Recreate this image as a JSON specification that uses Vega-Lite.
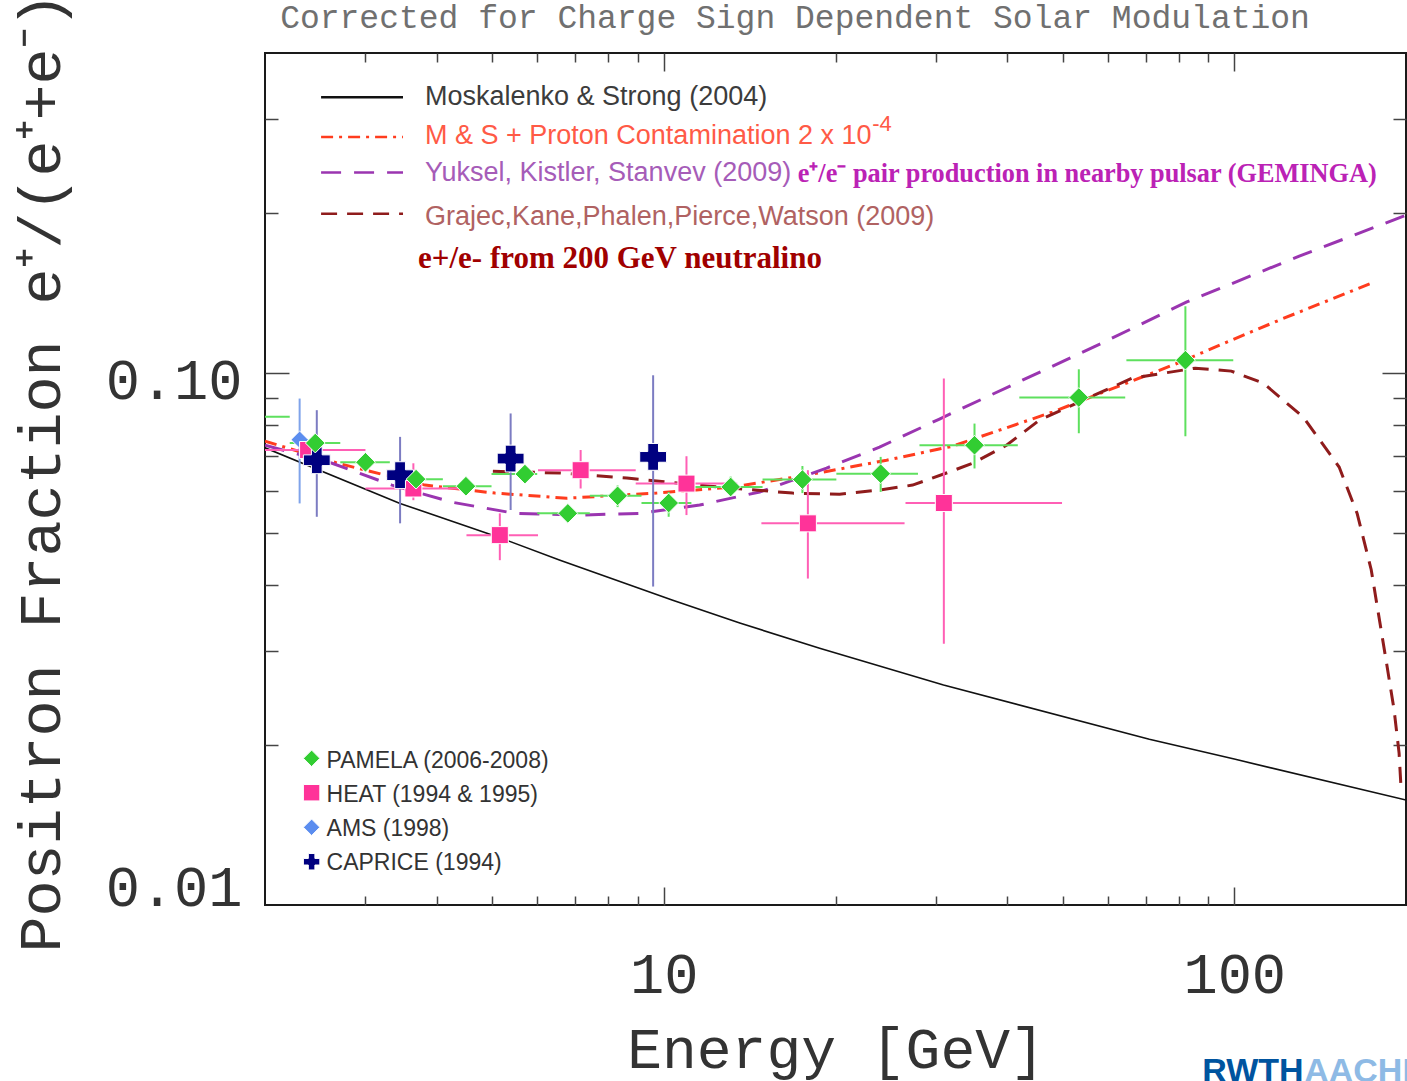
{
"$schema":"https://vega.github.io/schema/vega-lite/v6.json",
"width":1141,"height":852,
"autosize":{"type":"none"},
"padding":{"left":265,"top":53,"right":1,"bottom":176},
"background":"white",
"config":{"view":{"stroke":"#1a1a1a","strokeWidth":2},"axis":{"grid":false,"domain":false}},
"datasets":{
"curves":[
{"s":"MS","E":2.0,"F":0.0724},{"s":"MS","E":3.45,"F":0.0569},{"s":"MS","E":5.12,"F":0.0492},{"s":"MS","E":6.58,"F":0.0445},{"s":"MS","E":10.37,"F":0.0374},{"s":"MS","E":13.59,"F":0.0339},{"s":"MS","E":18.76,"F":0.0304},{"s":"MS","E":30.93,"F":0.02592},{"s":"MS","E":70.98,"F":0.0205},{"s":"MS","E":100,"F":0.01881},{"s":"MS","E":200,"F":0.01575},
{"s":"MSP","E":2.0,"F":0.0745},{"s":"MSP","E":2.686,"F":0.0677},{"s":"MSP","E":3.815,"F":0.0616},{"s":"MSP","E":5.06,"F":0.0595},{"s":"MSP","E":6.76,"F":0.0582},{"s":"MSP","E":9.72,"F":0.0595},{"s":"MSP","E":13.21,"F":0.0611},{"s":"MSP","E":17.8,"F":0.0643},{"s":"MSP","E":24.58,"F":0.0686},{"s":"MSP","E":32.07,"F":0.0729},{"s":"MSP","E":48.0,"F":0.0845},{"s":"MSP","E":79.5,"F":0.1044},{"s":"MSP","E":98.8,"F":0.1153},{"s":"MSP","E":120.9,"F":0.1263},{"s":"MSP","E":173.8,"F":0.1476},
{"s":"Y","E":2.0,"F":0.0732},{"s":"Y","E":2.622,"F":0.0677},{"s":"Y","E":3.338,"F":0.0616},{"s":"Y","E":4.253,"F":0.0572},{"s":"Y","E":5.483,"F":0.0545},{"s":"Y","E":7.13,"F":0.0541},{"s":"Y","E":9.08,"F":0.0545},{"s":"Y","E":11.56,"F":0.0565},{"s":"Y","E":14.73,"F":0.0598},{"s":"Y","E":19.29,"F":0.0663},{"s":"Y","E":23.89,"F":0.0726},{"s":"Y","E":30.43,"F":0.082},{"s":"Y","E":42.53,"F":0.097},{"s":"Y","E":58.0,"F":0.1133},{"s":"Y","E":82.4,"F":0.136},{"s":"Y","E":130.0,"F":0.166},{"s":"Y","E":200,"F":0.1982},
{"s":"G","E":5.017,"F":0.0654},{"s":"G","E":6.58,"F":0.0649},{"s":"G","E":8.614,"F":0.0635},{"s":"G","E":12.04,"F":0.0613},{"s":"G","E":16.82,"F":0.0595},{"s":"G","E":20.33,"F":0.0592},{"s":"G","E":23.89,"F":0.0603},{"s":"G","E":27.3,"F":0.0616},{"s":"G","E":31.3,"F":0.0649},{"s":"G","E":34.77,"F":0.0677},{"s":"G","E":39.88,"F":0.0732},{"s":"G","E":45.55,"F":0.0816},{"s":"G","E":52.03,"F":0.0871},{"s":"G","E":66.27,"F":0.0979},{"s":"G","E":85.44,"F":0.1022},{"s":"G","E":98.8,"F":0.1009},{"s":"G","E":112.4,"F":0.0958},{"s":"G","E":132.1,"F":0.0827},{"s":"G","E":152.7,"F":0.0666},{"s":"G","E":164.2,"F":0.0545},{"s":"G","E":173.8,"F":0.0427},{"s":"G","E":184.5,"F":0.0289},{"s":"G","E":190.6,"F":0.0233},{"s":"G","E":194.5,"F":0.0193},{"s":"G","E":196.1,"F":0.0165}
],
"pts":[
{"exp":"PAMELA","E":1.85,"F":0.0828,"xlo":1.6,"xhi":2.21},
{"exp":"PAMELA","E":2.45,"F":0.0739,"xlo":2.21,"xhi":2.71},
{"exp":"PAMELA","E":3.0,"F":0.068,"xlo":2.71,"xhi":3.31},
{"exp":"PAMELA","E":3.68,"F":0.0632,"xlo":3.31,"xhi":4.1},
{"exp":"PAMELA","E":4.5,"F":0.0613,"xlo":4.1,"xhi":4.99},
{"exp":"PAMELA","E":5.71,"F":0.0646,"xlo":4.99,"xhi":6.0},
{"exp":"PAMELA","E":6.79,"F":0.0545,"xlo":6.0,"xhi":7.42},
{"exp":"PAMELA","E":8.3,"F":0.0588,"xlo":7.42,"xhi":9.14,"ylo":0.056,"yhi":0.0615},
{"exp":"PAMELA","E":10.2,"F":0.057,"xlo":9.14,"xhi":11.18,"ylo":0.0537,"yhi":0.0598},
{"exp":"PAMELA","E":13.1,"F":0.0611,"xlo":11.18,"xhi":14.9,"ylo":0.0586,"yhi":0.0639},
{"exp":"PAMELA","E":17.5,"F":0.0631,"xlo":14.9,"xhi":20.07,"ylo":0.0595,"yhi":0.0669},
{"exp":"PAMELA","E":24.0,"F":0.0647,"xlo":20.07,"xhi":27.9,"ylo":0.0598,"yhi":0.0696},
{"exp":"PAMELA","E":35.05,"F":0.0732,"xlo":28.07,"xhi":41.74,"ylo":0.0662,"yhi":0.0804},
{"exp":"PAMELA","E":53.4,"F":0.09,"xlo":42.0,"xhi":64.4,"ylo":0.0771,"yhi":0.1017},
{"exp":"PAMELA","E":82.1,"F":0.1058,"xlo":64.7,"xhi":99.6,"ylo":0.0761,"yhi":0.1336},
{"exp":"HEAT","E":2.38,"F":0.0717,"xlo":1.9,"xhi":3.0},
{"exp":"HEAT","E":3.64,"F":0.0607,"xlo":3.0,"xhi":4.5,"ylo":0.0577,"yhi":0.0677},
{"exp":"HEAT","E":5.16,"F":0.0496,"xlo":4.51,"xhi":6.02,"ylo":0.0445,"yhi":0.0545},
{"exp":"HEAT","E":7.15,"F":0.0657,"xlo":6.02,"xhi":8.93,"ylo":0.0607,"yhi":0.0717},
{"exp":"HEAT","E":10.96,"F":0.062,"xlo":8.93,"xhi":13.45,"ylo":0.0541,"yhi":0.0698},
{"exp":"HEAT","E":17.89,"F":0.0522,"xlo":14.83,"xhi":26.43,"ylo":0.0411,"yhi":0.0657},
{"exp":"HEAT","E":30.97,"F":0.057,"xlo":26.53,"xhi":49.9,"ylo":0.031,"yhi":0.0977},
{"exp":"AMS","E":2.3,"F":0.075,"ylo":0.0569,"yhi":0.0896},
{"exp":"CAPRICE","E":2.465,"F":0.0686,"ylo":0.0537,"yhi":0.0852},
{"exp":"CAPRICE","E":3.45,"F":0.0643,"ylo":0.0522,"yhi":0.0759},
{"exp":"CAPRICE","E":5.39,"F":0.0691,"ylo":0.0553,"yhi":0.084},
{"exp":"CAPRICE","E":9.58,"F":0.0696,"ylo":0.0397,"yhi":0.0991}
],
"legl":[
{"s":"MS","x1":2.508,"x2":3.491,"F":0.3303},
{"s":"MSP","x1":2.508,"x2":3.491,"F":0.2781},
{"s":"Y","x1":2.508,"x2":3.491,"F":0.2384},
{"s":"G","x1":2.508,"x2":3.491,"F":0.1995}
],
"legt":[
{"s":"MS","t":"Moskalenko & Strong (2004)","E":3.815,"F":0.3191},
{"s":"MSP","t":"M & S + Proton Contamination 2 x 10","E":3.815,"F":0.2695},
{"s":"Y","t":"Yuksel, Kistler, Stanvev (2009)","E":3.815,"F":0.2296},
{"s":"G","t":"Grajec,Kane,Phalen,Pierce,Watson (2009)","E":3.815,"F":0.1898}
],
"legm":[
{"exp":"PAMELA","lab":"PAMELA (2006-2008)","E":2.414,"F":0.01887,"tE":2.564,"tF":0.0181},
{"exp":"HEAT","lab":"HEAT (1994 & 1995)","E":2.414,"F":0.01626,"tE":2.564,"tF":0.01564},
{"exp":"AMS","lab":"AMS (1998)","E":2.414,"F":0.014,"tE":2.564,"tF":0.01348},
{"exp":"CAPRICE","lab":"CAPRICE (1994)","E":2.414,"F":0.01206,"tE":2.564,"tF":0.01163}
]
},
"resolve":{"scale":{"stroke":"independent","fill":"independent","shape":"independent","strokeDash":"independent","color":"independent"},"axis":{"x":"independent","y":"independent"}},
"layer":[
{"data":{"name":"curves"},"transform":[{"filter":"datum.s==='MS'"}],
 "mark":{"type":"line","clip":true,"color":"#111111","strokeWidth":1.6},
 "encoding":{
  "x":{"field":"E","type":"quantitative","scale":{"type":"log","domain":[2,200],"nice":false},
   "axis":{"orient":"bottom","values":[10,100],"format":"d","ticks":false,"domain":false,"grid":false,"labelFont":"Liberation Mono","labelFontSize":57,"labelColor":"#333333","labelPadding":42,"labelFlush":false,"labelOverlap":false,"labelBound":false,"title":"Energy [GeV]","titleFont":"Liberation Mono","titleFontSize":58,"titleFontWeight":"normal","titleColor":"#333333","titleY":162,"titleBaseline":"alphabetic"}},
  "y":{"field":"F","type":"quantitative","scale":{"type":"log","domain":[0.01,0.4],"nice":false},
   "axis":{"orient":"left","values":[0.01,0.1],"format":".2f","ticks":false,"domain":false,"grid":false,"labelFont":"Liberation Mono","labelFontSize":57,"labelColor":"#333333","labelPadding":23,"labelFlush":false,"labelOverlap":false,"labelBaseline":"alphabetic","labelOffset":{"condition":{"test":"datum.value > 0.05","value":25},"value":0},"title":"Positron Fraction e⁺/(e⁺+e⁻)","titleFont":"Liberation Mono","titleFontSize":60,"titleFontWeight":"normal","titleColor":"#333333","titleX":-206,"titleY":419,"titleBaseline":"alphabetic","titleAngle":270}}
 }},
{"data":{"name":"curves"},"transform":[{"filter":"datum.s==='MSP'"}],
 "mark":{"type":"line","clip":true,"color":"#ff3c1e","strokeWidth":3,"strokeDash":[12,6,3,6]},
 "encoding":{
  "x":{"field":"E","type":"quantitative","scale":{"type":"log","domain":[2,200],"nice":false},
   "axis":{"orient":"bottom","values":[10,100],"labels":false,"ticks":true,"tickSize":-18,"tickColor":"#444444","tickWidth":1.5,"domain":false,"grid":false,"title":null}},
  "y":{"field":"F","type":"quantitative","scale":{"type":"log","domain":[0.01,0.4],"nice":false},
   "axis":{"orient":"left","values":[0.1],"labels":false,"ticks":true,"tickSize":-24,"tickColor":"#444444","tickWidth":1.5,"domain":false,"grid":false,"title":null}}
 }},
{"data":{"name":"curves"},"transform":[{"filter":"datum.s==='Y'"}],
 "mark":{"type":"line","clip":true,"color":"#9a35b0","strokeWidth":3,"strokeDash":[20,13]},
 "encoding":{
  "x":{"field":"E","type":"quantitative","scale":{"type":"log","domain":[2,200],"nice":false},
   "axis":{"orient":"bottom","values":[3,4,5,6,7,8,9,20,30,40,50,60,70,80,90],"labels":false,"ticks":true,"tickSize":-9,"tickColor":"#444444","tickWidth":1.5,"domain":false,"grid":false,"title":null}},
  "y":{"field":"F","type":"quantitative","scale":{"type":"log","domain":[0.01,0.4],"nice":false},
   "axis":{"orient":"left","values":[0.02,0.03,0.04,0.05,0.06,0.07,0.08,0.09,0.2,0.3],"labels":false,"ticks":true,"tickSize":-13,"tickColor":"#444444","tickWidth":1.5,"domain":false,"grid":false,"title":null}}
 }},
{"data":{"name":"curves"},"transform":[{"filter":"datum.s==='G'"}],
 "mark":{"type":"line","clip":true,"color":"#8f1c1c","strokeWidth":3,"strokeDash":[16,10]},
 "encoding":{
  "x":{"field":"E","type":"quantitative","scale":{"type":"log","domain":[2,200],"nice":false},
   "axis":{"orient":"top","values":[10,100],"labels":false,"ticks":true,"tickSize":-18,"tickColor":"#444444","tickWidth":1.5,"domain":false,"grid":false,"title":null}},
  "y":{"field":"F","type":"quantitative","scale":{"type":"log","domain":[0.01,0.4],"nice":false},
   "axis":{"orient":"right","values":[0.1],"labels":false,"ticks":true,"tickSize":-24,"tickColor":"#444444","tickWidth":1.5,"domain":false,"grid":false,"title":null}}
 }},
{"data":{"name":"legl"},
 "mark":{"type":"rule","strokeWidth":2.5},
 "encoding":{
  "x":{"field":"x1","type":"quantitative","scale":{"type":"log","domain":[2,200],"nice":false},
   "axis":{"orient":"top","values":[3,4,5,6,7,8,9,20,30,40,50,60,70,80,90],"labels":false,"ticks":true,"tickSize":-9,"tickColor":"#444444","tickWidth":1.5,"domain":false,"grid":false,"title":null}},
  "x2":{"field":"x2"},
  "y":{"field":"F","type":"quantitative","scale":{"type":"log","domain":[0.01,0.4],"nice":false},
   "axis":{"orient":"right","values":[0.02,0.03,0.04,0.05,0.06,0.07,0.08,0.09,0.2,0.3],"labels":false,"ticks":true,"tickSize":-13,"tickColor":"#444444","tickWidth":1.5,"domain":false,"grid":false,"title":null}},
  "stroke":{"field":"s","type":"nominal","scale":{"domain":["MS","MSP","Y","G"],"range":["#111111","#ff3c1e","#9a35b0","#8f1c1c"]},"legend":null},
  "strokeDash":{"field":"s","type":"nominal","scale":{"domain":["MS","MSP","Y","G"],"range":[[1,0],[12,6,3,6],[20,13],[16,10]]},"legend":null}
 }},
{"data":{"name":"pts"},"transform":[{"filter":"isValid(datum.xlo)"}],
 "mark":{"type":"rule","clip":true,"strokeWidth":2},
 "encoding":{
  "x":{"field":"xlo","type":"quantitative","scale":{"type":"log","domain":[2,200],"nice":false},"axis":null},
  "x2":{"field":"xhi"},
  "y":{"field":"F","type":"quantitative","scale":{"type":"log","domain":[0.01,0.4],"nice":false},"axis":null},
  "stroke":{"field":"exp","type":"nominal","scale":{"domain":["PAMELA","HEAT","AMS","CAPRICE"],"range":["#5ee05e","#ff5fb5","#7fa3ea","#7c7cc2"]},"legend":null}
 }},
{"data":{"name":"pts"},"transform":[{"filter":"isValid(datum.ylo)"}],
 "mark":{"type":"rule","clip":true,"strokeWidth":2},
 "encoding":{
  "x":{"field":"E","type":"quantitative","scale":{"type":"log","domain":[2,200],"nice":false},"axis":null},
  "y":{"field":"ylo","type":"quantitative","scale":{"type":"log","domain":[0.01,0.4],"nice":false},"axis":null},
  "y2":{"field":"yhi"},
  "stroke":{"field":"exp","type":"nominal","scale":{"domain":["PAMELA","HEAT","AMS","CAPRICE"],"range":["#5ee05e","#ff5fb5","#7fa3ea","#7c7cc2"]},"legend":null}
 }},
{"data":{"name":"pts"},"transform":[{"filter":"datum.exp==='AMS'"}],
 "mark":{"type":"point","clip":true,"filled":true,"shape":"diamond","fill":"#5b8def","stroke":"white","strokeWidth":1,"size":300,"opacity":1},
 "encoding":{
  "x":{"field":"E","type":"quantitative","scale":{"type":"log","domain":[2,200],"nice":false},"axis":null},
  "y":{"field":"F","type":"quantitative","scale":{"type":"log","domain":[0.01,0.4],"nice":false},"axis":null}
 }},
{"data":{"name":"pts"},"transform":[{"filter":"datum.exp==='HEAT'"}],
 "mark":{"type":"point","clip":true,"filled":true,"shape":"square","fill":"#ff3399","stroke":"white","strokeWidth":1,"size":290,"opacity":1},
 "encoding":{
  "x":{"field":"E","type":"quantitative","scale":{"type":"log","domain":[2,200],"nice":false},"axis":null},
  "y":{"field":"F","type":"quantitative","scale":{"type":"log","domain":[0.01,0.4],"nice":false},"axis":null}
 }},
{"data":{"name":"pts"},"transform":[{"filter":"datum.exp==='CAPRICE'"}],
 "mark":{"type":"point","clip":true,"filled":true,"shape":"cross","fill":"#000080","stroke":"white","strokeWidth":1,"size":720,"opacity":1},
 "encoding":{
  "x":{"field":"E","type":"quantitative","scale":{"type":"log","domain":[2,200],"nice":false},"axis":null},
  "y":{"field":"F","type":"quantitative","scale":{"type":"log","domain":[0.01,0.4],"nice":false},"axis":null}
 }},
{"data":{"name":"pts"},"transform":[{"filter":"datum.exp==='PAMELA'"}],
 "mark":{"type":"point","clip":true,"filled":true,"shape":"diamond","fill":"#32cd32","stroke":"white","strokeWidth":1,"size":390,"opacity":1},
 "encoding":{
  "x":{"field":"E","type":"quantitative","scale":{"type":"log","domain":[2,200],"nice":false},"axis":null},
  "y":{"field":"F","type":"quantitative","scale":{"type":"log","domain":[0.01,0.4],"nice":false},"axis":null}
 }},
{"data":{"name":"legm"},
 "mark":{"type":"point","filled":true,"stroke":"white","strokeWidth":1,"size":270,"opacity":1},
 "encoding":{
  "x":{"field":"E","type":"quantitative","scale":{"type":"log","domain":[2,200],"nice":false},"axis":null},
  "y":{"field":"F","type":"quantitative","scale":{"type":"log","domain":[0.01,0.4],"nice":false},"axis":null},
  "shape":{"field":"exp","type":"nominal","scale":{"domain":["PAMELA","HEAT","AMS","CAPRICE"],"range":["diamond","square","diamond","cross"]},"legend":null},
  "fill":{"field":"exp","type":"nominal","scale":{"domain":["PAMELA","HEAT","AMS","CAPRICE"],"range":["#32cd32","#ff3399","#5b8def","#000080"]},"legend":null}
 }},
{"data":{"name":"legm"},
 "mark":{"type":"text","align":"left","baseline":"alphabetic","font":"Liberation Sans","fontSize":23,"color":"#333333"},
 "encoding":{
  "x":{"field":"tE","type":"quantitative","scale":{"type":"log","domain":[2,200],"nice":false},"axis":null},
  "y":{"field":"tF","type":"quantitative","scale":{"type":"log","domain":[0.01,0.4],"nice":false},"axis":null},
  "text":{"field":"lab"}
 }},
{"data":{"name":"legt"},
 "mark":{"type":"text","align":"left","baseline":"alphabetic","font":"Liberation Sans","fontSize":27},
 "encoding":{
  "x":{"field":"E","type":"quantitative","scale":{"type":"log","domain":[2,200],"nice":false},"axis":null},
  "y":{"field":"F","type":"quantitative","scale":{"type":"log","domain":[0.01,0.4],"nice":false},"axis":null},
  "text":{"field":"t"},
  "fill":{"field":"s","type":"nominal","scale":{"domain":["MS","MSP","Y","G"],"range":["#3c3c3c","#ff5a46","#a65cb8","#b06262"]},"legend":null}
 }},
{"data":{"values":[{"t":"-4","E":23.2,"F":0.2851}]},
 "mark":{"type":"text","align":"left","baseline":"alphabetic","font":"Liberation Sans","fontSize":22,"color":"#ff5a46"},
 "encoding":{
  "x":{"field":"E","type":"quantitative","scale":{"type":"log","domain":[2,200],"nice":false},"axis":null},
  "y":{"field":"F","type":"quantitative","scale":{"type":"log","domain":[0.01,0.4],"nice":false},"axis":null},
  "text":{"field":"t"}
 }},
{"data":{"values":[{"t":"e⁺/e⁻ pair production in nearby pulsar (GEMINGA)","E":17.17,"F":0.2286}]},
 "mark":{"type":"text","align":"left","baseline":"alphabetic","font":"Liberation Serif","fontWeight":"bold","fontSize":26.3,"color":"#bb22b5"},
 "encoding":{
  "x":{"field":"E","type":"quantitative","scale":{"type":"log","domain":[2,200],"nice":false},"axis":null},
  "y":{"field":"F","type":"quantitative","scale":{"type":"log","domain":[0.01,0.4],"nice":false},"axis":null},
  "text":{"field":"t"}
 }},
{"data":{"values":[{"t":"e+/e- from 200 GeV neutralino","E":3.709,"F":0.1576}]},
 "mark":{"type":"text","align":"left","baseline":"alphabetic","font":"Liberation Serif","fontWeight":"bold","fontSize":31,"color":"#a00000"},
 "encoding":{
  "x":{"field":"E","type":"quantitative","scale":{"type":"log","domain":[2,200],"nice":false},"axis":null},
  "y":{"field":"F","type":"quantitative","scale":{"type":"log","domain":[0.01,0.4],"nice":false},"axis":null},
  "text":{"field":"t"}
 }},
{"data":{"values":[{"t":"Corrected for Charge Sign Dependent Solar Modulation","E":2.126,"F":0.4452}]},
 "mark":{"type":"text","align":"left","baseline":"alphabetic","font":"Liberation Mono","fontSize":33,"color":"#707070"},
 "encoding":{
  "x":{"field":"E","type":"quantitative","scale":{"type":"log","domain":[2,200],"nice":false},"axis":null},
  "y":{"field":"F","type":"quantitative","scale":{"type":"log","domain":[0.01,0.4],"nice":false},"axis":null},
  "text":{"field":"t"}
 }},
{"data":{"values":[{"t":"RWTH","E":87.9,"F":0.004648}]},
 "mark":{"type":"text","align":"left","baseline":"alphabetic","font":"Liberation Sans","fontWeight":"bold","fontSize":34,"color":"#00549f"},
 "encoding":{
  "x":{"field":"E","type":"quantitative","scale":{"type":"log","domain":[2,200],"nice":false},"axis":null},
  "y":{"field":"F","type":"quantitative","scale":{"type":"log","domain":[0.01,0.4],"nice":false},"axis":null},
  "text":{"field":"t"}
 }},
{"data":{"values":[{"t":"AACHEN","E":132.6,"F":0.004648}]},
 "mark":{"type":"text","align":"left","baseline":"alphabetic","font":"Liberation Sans","fontWeight":"bold","fontSize":34,"color":"#8ebae5"},
 "encoding":{
  "x":{"field":"E","type":"quantitative","scale":{"type":"log","domain":[2,200],"nice":false},"axis":null},
  "y":{"field":"F","type":"quantitative","scale":{"type":"log","domain":[0.01,0.4],"nice":false},"axis":null},
  "text":{"field":"t"}
 }}
]
}
